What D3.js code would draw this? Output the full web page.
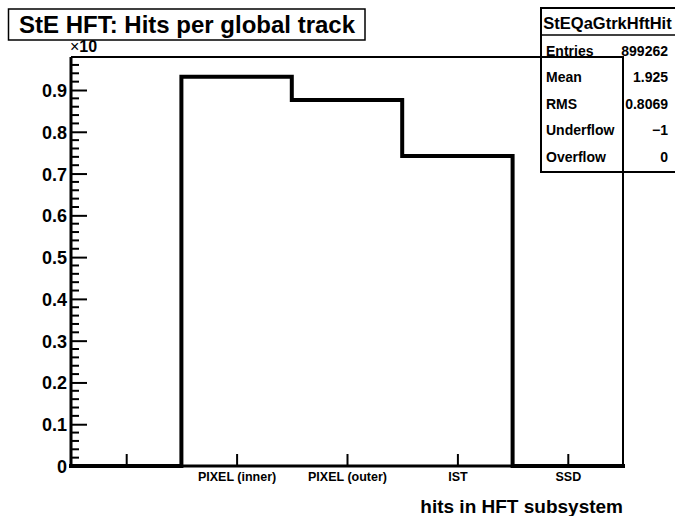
<!DOCTYPE html>
<html><head><meta charset="utf-8">
<script src="https://cdn.jsdelivr.net/npm/d3@7"></script>
<style>
html,body{margin:0;padding:0;background:#fff;}
svg text{font-family:"Liberation Sans",Arial,Helvetica,sans-serif;font-weight:bold;fill:#000;}
</style></head>
<body><svg id="c" width="675" height="516"></svg>
<script>
// ---- data ----
const categories = ["", "PIXEL (inner)", "PIXEL (outer)", "IST", "SSD"];
const values = [0, 0.932, 0.876, 0.742, 0];           // x 10^6
const yTickValues = [0, 0.1, 0.2, 0.3, 0.4, 0.5, 0.6, 0.7, 0.8, 0.9];
const yTickLabels = ["0", "0.1", "0.2", "0.3", "0.4", "0.5", "0.6", "0.7", "0.8", "0.9"];
const yMax = 0.979;
const chartTitle = "StE HFT: Hits per global track";
const xTitle = "hits in HFT subsystem";
const yExponent = "10";
const statsName = "StEQaGtrkHftHit";
const statsLabels = ["Entries", "Mean", "RMS", "Underflow", "Overflow"];
const statsValues = ["899262", "1.925", "0.8069", "\u22121", "0"];

// ---- layout ----
const svg = d3.select("#c");
const L = 71, R = 623, T = 57, B = 466;
const x = d3.scaleLinear().domain([0, categories.length]).range([L, R]);
const y = d3.scaleLinear().domain([0, yMax]).range([B, T]);

// frame (top / right)
svg.append("path")
  .attr("d", `M${L},${T}H${R}V${B}`)
  .attr("fill", "none").attr("stroke", "#000").attr("stroke-width", 2);

// histogram
const pts = [];
values.forEach((v, i) => { pts.push([i, v]); pts.push([i + 1, v]); });
svg.append("path")
  .datum(pts)
  .attr("d", d3.line().x(d => x(d[0])).y(d => y(d[1])))
  .attr("fill", "none").attr("stroke", "#000").attr("stroke-width", 4)
  .attr("stroke-linejoin", "miter").attr("stroke-linecap", "square");

// y axis: minor ticks
const minor = d3.range(0, yMax, 0.02).filter(v => Math.abs(Math.round(v * 10) - v * 10) > 1e-6);
svg.append("g").selectAll("line").data(minor).join("line")
  .attr("x1", L).attr("x2", L + 8)
  .attr("y1", d => y(d)).attr("y2", d => y(d))
  .attr("stroke", "#000").attr("stroke-width", 2);

const yAxis = d3.axisRight(y).tickValues(yTickValues).tickSize(16)
  .tickFormat((d, i) => yTickLabels[i]);
const gy = svg.append("g").attr("transform", `translate(${L},0)`).call(yAxis);
gy.select(".domain").remove();
gy.selectAll(".tick line").attr("stroke", "#000").attr("stroke-width", 2);
gy.selectAll(".tick text").attr("x", -4).attr("text-anchor", "end")
  .attr("font-size", 18).attr("dy", "0.36em").attr("fill", "#000");
svg.append("line").attr("x1", L).attr("x2", L).attr("y1", T).attr("y2", B + 1.5)
  .attr("stroke", "#000").attr("stroke-width", 3);

// x axis
const xAxis = d3.axisBottom(x)
  .tickValues(categories.map((c, i) => i + 0.5))
  .tickSize(-12).tickPadding(6)
  .tickFormat((d, i) => categories[i]);
const gx = svg.append("g").attr("transform", `translate(0,${B})`).call(xAxis);
gx.select(".domain").remove();
gx.selectAll(".tick line").attr("stroke", "#000").attr("stroke-width", 2);
gx.selectAll(".tick text").attr("font-size", 12.5).attr("fill", "#000");
svg.append("line").attr("x1", L - 1.5).attr("x2", R + 1).attr("y1", B).attr("y2", B)
  .attr("stroke", "#000").attr("stroke-width", 3);

// axis titles
svg.append("text").attr("x", R).attr("y", 513).attr("text-anchor", "end")
  .attr("font-size", 19).text(xTitle);
const ex = svg.append("text").attr("x", L - 1).attr("y", 52).attr("font-size", 16);
ex.append("tspan").attr("font-weight", "normal").text("\u00d7");
ex.append("tspan").text(yExponent);

// title box
svg.append("rect").attr("x", 8.5).attr("y", 9).attr("width", 356.5).attr("height", 31)
  .attr("fill", "#fff").attr("stroke", "#000").attr("stroke-width", 1.5);
svg.append("text").attr("x", 187).attr("y", 33).attr("text-anchor", "middle")
  .attr("font-size", 24).text(chartTitle);

// stats box (right edge runs off the canvas)
const sx = 541, sy = 8, sw = 140, sh = 164;
svg.append("rect").attr("x", sx).attr("y", sy).attr("width", sw).attr("height", sh)
  .attr("fill", "none").attr("stroke", "#000").attr("stroke-width", 2);
svg.append("line").attr("x1", sx).attr("x2", sx + sw).attr("y1", 35).attr("y2", 35)
  .attr("stroke", "#000").attr("stroke-width", 1.5);
svg.append("text").attr("x", 607.5).attr("y", 28.5).attr("text-anchor", "middle")
  .attr("font-size", 16.5).text(statsName);
const rowY = d3.scaleLinear().domain([0, 4]).range([50.5, 157]);
statsLabels.forEach((l, i) => {
  svg.append("text").attr("x", 546).attr("y", rowY(i)).attr("dy", "0.36em")
    .attr("font-size", 14).text(l);
  svg.append("text").attr("x", 668).attr("y", rowY(i)).attr("dy", "0.36em")
    .attr("text-anchor", "end").attr("font-size", 14).text(statsValues[i]);
});
</script></body></html>
